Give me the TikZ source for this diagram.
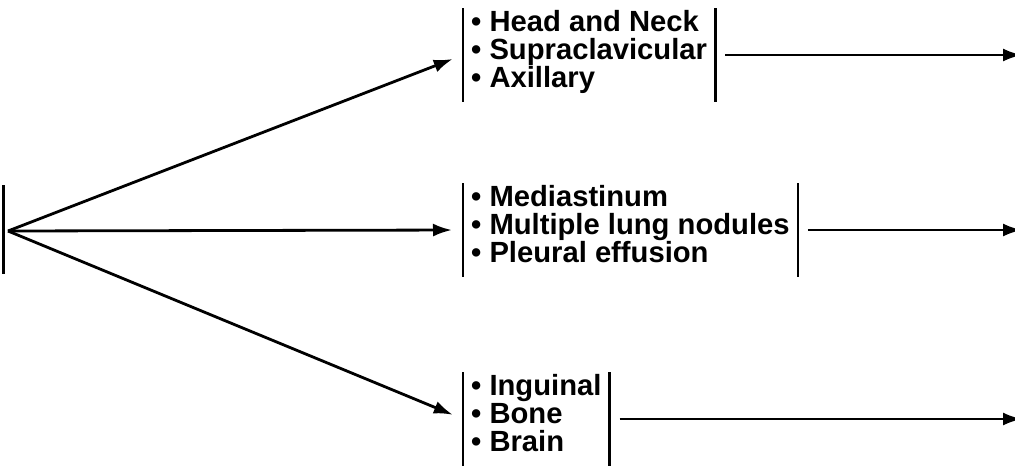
\documentclass[tikz,border=0pt]{standalone}
\usepackage{fontspec}
\setmainfont{Liberation Sans}
\usetikzlibrary{arrows.meta,calc}

\begin{document}
\begin{tikzpicture}[x=1pt,y=-1pt]
\tikzset{
  items/.style={anchor=north west,align=left,inner xsep=8pt,inner ysep=0pt,
    font=\fontsize{29.2}{28}\selectfont\bfseries},
  bar/.style={line width=2.6pt},
  link/.style={-{Latex[length=19pt,width=13pt]},line width=2.8pt},
}
\useasboundingbox (0,0) rectangle (1015,466);
% origin bar
\draw[line width=3pt] (3,185) -- (3,274);
\coordinate (src) at (8,231);
% site groups
\foreach \n/\t/\lines/\yend in {
  neck/8/{• Head and Neck\\• Supraclavicular\\• Axillary}/55,
  chest/183/{• Mediastinum\\• Multiple lung nodules\\• Pleural effusion}/230,
  distant/372/{• Inguinal\\• Bone\\• Brain}/419} {
  \node[items] (\n) at (463,\t+2) {\lines};
  \coordinate (\n-in) at ([yshift=-45pt]\n.north west);
  \coordinate (\n-out) at ([yshift=-45pt]\n.north east);
  \coordinate (\n-end) at (1022,\yend);
  \draw[bar] ([yshift=2pt]\n.north west) -- ++(0,94);
  \draw[bar] ([yshift=2pt]\n.north east) -- ++(0,94);
  \draw[link,shorten >=11pt] (src) -- (\n-in);
  \draw[link,shorten <=10pt] (\n-out) -- (\n-end);
}
\end{tikzpicture}
\end{document}
